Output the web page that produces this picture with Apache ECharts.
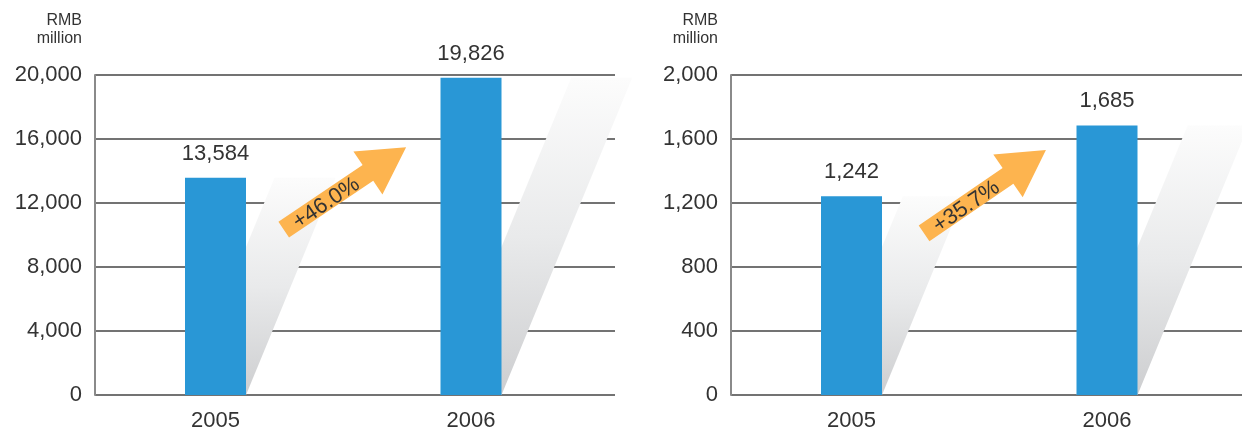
<!DOCTYPE html>
<html>
<head>
<meta charset="utf-8">
<script src="https://cdn.jsdelivr.net/npm/echarts@6/dist/echarts.min.js"></script>
<style>
  html, body { margin: 0; padding: 0; background: #ffffff; }
  #chart { width: 1242px; height: 432px; }
</style>
</head>
<body>
<div id="chart"></div>
<script>
// ---- data ----
const years = ['2005', '2006'];
const revenueValues = [13584, 19826];      // left chart, RMB million
const profitValues = [1242, 1685];         // right chart, RMB million
const growthLabels = ['+46.0%', '+35.7%'];
const leftTicks = { max: 20000, interval: 4000 };
const rightTicks = { max: 2000, interval: 400 };
const unitLabel = 'RMB\nmillion';

// ---- layout / style ----
const FONT = '"Liberation Sans", Arial, sans-serif';
const TEXT = '#333333';
const BAR_COLOR = '#2997d6';
const ARROW_COLOR = '#fdb44f';
const BAR_W = 61;
const SHEAR = 0.412;
const GRID_TOP = 75, GRID_H = 320;
const FIRST_BAR_OFFSET = 120.5;   // px from y-axis to first bar centre
const BAR_SPACING = 255.5;        // px between bar centres
const grids = [
  { left: 95, top: GRID_TOP, width: 520, height: GRID_H },
  { left: 731, top: GRID_TOP, width: 511, height: GRID_H }
];
// arrow anchors: [x of tail, fraction of axis max at tail, x of tip, fraction at tip]
const arrowAnchors = [
  [0.267, 0.517, 0.746, 0.774],
  [0.284, 0.505, 0.761, 0.766]
];

function fmt(v) { return Math.round(v).toLocaleString('en-US'); }

const shadowGradient = new echarts.graphic.LinearGradient(0, 0, 0, 1, [
  { offset: 0, color: '#fcfcfc' },
  { offset: 0.5, color: '#e9eaeb' },
  { offset: 1, color: '#cdced0' }
]);

function renderShadow(params, api) {
  const x = api.value(0), v = api.value(1);
  const base = api.coord([x, 0]);
  const top = api.coord([x, v]);
  const half = BAR_W / 2;
  const s = SHEAR * (base[1] - top[1]);
  return {
    type: 'polygon',
    shape: { points: [
      [base[0] - half, base[1]], [base[0] + half, base[1]],
      [base[0] + half + s, top[1]], [base[0] - half + s, top[1]]
    ] },
    style: { fill: shadowGradient }
  };
}

function renderArrow(params, api) {
  const T = api.coord([api.value(0), api.value(1)]);
  const P = api.coord([api.value(2), api.value(3)]);
  const dx = P[0] - T[0], dy = P[1] - T[1];
  const len = Math.sqrt(dx * dx + dy * dy);
  const u = [dx / len, dy / len];
  const n = [-u[1], u[0]];
  const hw = 9.5, hh = 26, hl = 46;
  const H = [P[0] - u[0] * hl, P[1] - u[1] * hl];
  const pt = (b, k) => [b[0] + n[0] * k, b[1] + n[1] * k];
  const pts = [pt(T, hw), pt(H, hw), pt(H, hh), P, pt(H, -hh), pt(H, -hw), pt(T, -hw)];
  const along = 50, perp = -2;
  const cx = T[0] + u[0] * along - n[0] * perp;
  const cy = T[1] + u[1] * along - n[1] * perp;
  const label = growthLabels[params.seriesIndex === 2 ? 0 : 1];
  return {
    type: 'group',
    children: [
      { type: 'polygon', shape: { points: pts }, style: { fill: ARROW_COLOR } },
      {
        type: 'text', x: cx, y: cy, rotation: Math.atan2(-dy, dx),
        style: { text: label, fill: TEXT, fontSize: 22, fontFamily: FONT, align: 'center', verticalAlign: 'middle' }
      }
    ]
  };
}

function xAxisFor(i) {
  const xMin = -FIRST_BAR_OFFSET / BAR_SPACING;
  return {
    gridIndex: i, type: 'value', min: xMin, max: xMin + grids[i].width / BAR_SPACING,
    axisLine: { show: false }, axisTick: { show: false }, splitLine: { show: false },
    axisLabel: {
      customValues: [0, 1],
      formatter: v => years[Math.round(v)],
      fontSize: 22, fontFamily: FONT, color: TEXT, margin: 15
    }
  };
}
function yAxisFor(i, ticks) {
  return {
    gridIndex: i, type: 'value', min: 0, max: ticks.max, interval: ticks.interval,
    name: unitLabel, nameLocation: 'end', nameGap: 27,
    nameTextStyle: { fontSize: 16, fontFamily: FONT, color: TEXT, align: 'right', lineHeight: 18, padding: [0, 13, 0, 0] },
    axisLine: { show: true, onZero: false, lineStyle: { color: '#8a8a8a', width: 2 } },
    axisTick: { show: false },
    axisLabel: { fontSize: 22, fontFamily: FONT, color: TEXT, margin: 13, formatter: fmt },
    splitLine: { show: true, lineStyle: { color: '#444444', width: 1.5 } }
  };
}
function barSeries(i, values) {
  return {
    type: 'bar', xAxisIndex: i, yAxisIndex: i, z: 3,
    barWidth: BAR_W,
    data: values.map((v, k) => [k, v]),
    itemStyle: { color: BAR_COLOR },
    label: { show: true, position: 'top', distance: 13, fontSize: 22, fontFamily: FONT, color: TEXT,
      formatter: p => fmt(p.value[1]) }
  };
}
function shadowSeries(i, values) {
  return {
    type: 'custom', xAxisIndex: i, yAxisIndex: i, z: 2, clip: false,
    renderItem: renderShadow,
    data: values.map((v, k) => [k, v])
  };
}
function arrowSeries(i, ticks) {
  const a = arrowAnchors[i];
  return {
    type: 'custom', xAxisIndex: i, yAxisIndex: i, z: 4, clip: false,
    renderItem: renderArrow,
    data: [[a[0], a[1] * ticks.max, a[2], a[3] * ticks.max]]
  };
}

const chart = echarts.init(document.getElementById('chart'), null, { renderer: 'canvas' });
chart.setOption({
  animation: false,
  backgroundColor: '#ffffff',
  grid: grids,
  xAxis: [xAxisFor(0), xAxisFor(1)],
  yAxis: [yAxisFor(0, leftTicks), yAxisFor(1, rightTicks)],
  series: [
    shadowSeries(0, revenueValues),
    barSeries(0, revenueValues),
    arrowSeries(0, leftTicks),
    shadowSeries(1, profitValues),
    barSeries(1, profitValues),
    arrowSeries(1, rightTicks)
  ]
});
</script>
</body>
</html>
